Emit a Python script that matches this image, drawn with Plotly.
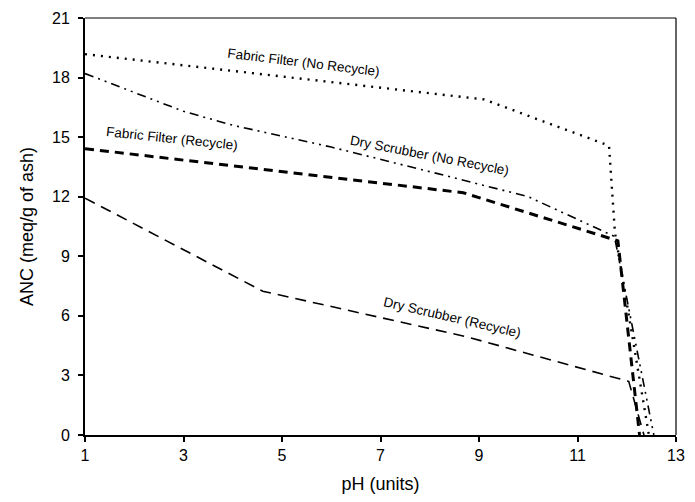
import plotly.graph_objects as go

# ---- data ----
ff_norec_ph = [1.0, 9.1, 11.64, 11.76, 12.45]
ff_norec_anc = [19.18, 16.9, 14.57, 10.2, 0.0]

ds_norec_ph = [1.0, 3.0, 4.0, 6.0, 8.1, 10.0, 11.75, 12.55]
ds_norec_anc = [18.2, 16.3, 15.6, 14.5, 13.2, 12.0, 10.0, 0.0]

ff_rec_ph = [1.0, 8.68, 11.82, 12.26]
ff_rec_anc = [14.42, 12.2, 9.78, 0.0]

ds_rec_ph = [1.0, 4.61, 8.76, 12.04, 12.35]
ds_rec_anc = [11.93, 7.24, 4.94, 2.7, 0.0]

x_ticks = [1, 3, 5, 7, 9, 11, 13]
y_ticks = [0, 3, 6, 9, 12, 15, 18, 21]

labels = ["Fabric Filter (No Recycle)", "Dry Scrubber (No Recycle)",
          "Fabric Filter (Recycle)", "Dry Scrubber (Recycle)"]
label_x = [5.44, 8.0, 2.76, 8.46]
label_y = [18.75, 14.1, 14.95, 5.9]
label_angle = [7, 11, 6, 13]

FONT = "Liberation Sans, Arial, sans-serif"

fig = go.Figure()
fig.add_trace(go.Scatter(x=ff_norec_ph, y=ff_norec_anc, mode="lines",
                         line=dict(color="black", width=2.4, dash="2px,6px"),
                         name=labels[0]))
fig.add_trace(go.Scatter(x=ds_norec_ph, y=ds_norec_anc, mode="lines",
                         line=dict(color="black", width=1.6,
                                   dash="9px,5px,2px,5px,2px,5px"),
                         name=labels[1]))
fig.add_trace(go.Scatter(x=ff_rec_ph, y=ff_rec_anc, mode="lines",
                         line=dict(color="black", width=3, dash="9px,6px"),
                         name=labels[2]))
fig.add_trace(go.Scatter(x=ds_rec_ph, y=ds_rec_anc, mode="lines",
                         line=dict(color="black", width=1.6, dash="11px,7px"),
                         name=labels[3]))

for t, x, y, a in zip(labels, label_x, label_y, label_angle):
    fig.add_annotation(x=x, y=y, text=t, showarrow=False, textangle=a,
                       font=dict(family=FONT, size=13.5, color="black"))

fig.update_layout(
    width=695, height=502,
    margin=dict(l=85, r=10, t=10, b=67),
    paper_bgcolor="white", plot_bgcolor="white",
    showlegend=False,
    font=dict(family=FONT, size=16, color="black"),
    shapes=[
        dict(type="line", xref="paper", yref="paper", x0=0, x1=1, y0=1, y1=1,
             line=dict(color="black", width=1.2)),
        dict(type="line", xref="paper", yref="paper", x0=1, x1=1, y0=0, y1=1,
             line=dict(color="black", width=1.2)),
    ],
)
fig.update_xaxes(range=[1, 13], tickvals=x_ticks, ticktext=[str(v) for v in x_ticks],
                 showgrid=False, zeroline=False, showline=True, linecolor="black",
                 linewidth=2, ticks="outside", ticklen=5, tickwidth=1.5,
                 tickcolor="black", tickfont=dict(size=16),
                 title=dict(text="pH (units)", font=dict(size=18), standoff=14))
fig.update_yaxes(range=[0, 21], tickvals=y_ticks, ticktext=[str(v) for v in y_ticks],
                 showgrid=False, zeroline=False, showline=True, linecolor="black",
                 linewidth=2, ticks="outside", ticklen=5, tickwidth=1.5,
                 tickcolor="black", tickfont=dict(size=16), ticklabelstandoff=5,
                 title=dict(text="ANC (meq/g of ash)", font=dict(size=18), standoff=14))

fig.write_html("out.html")
